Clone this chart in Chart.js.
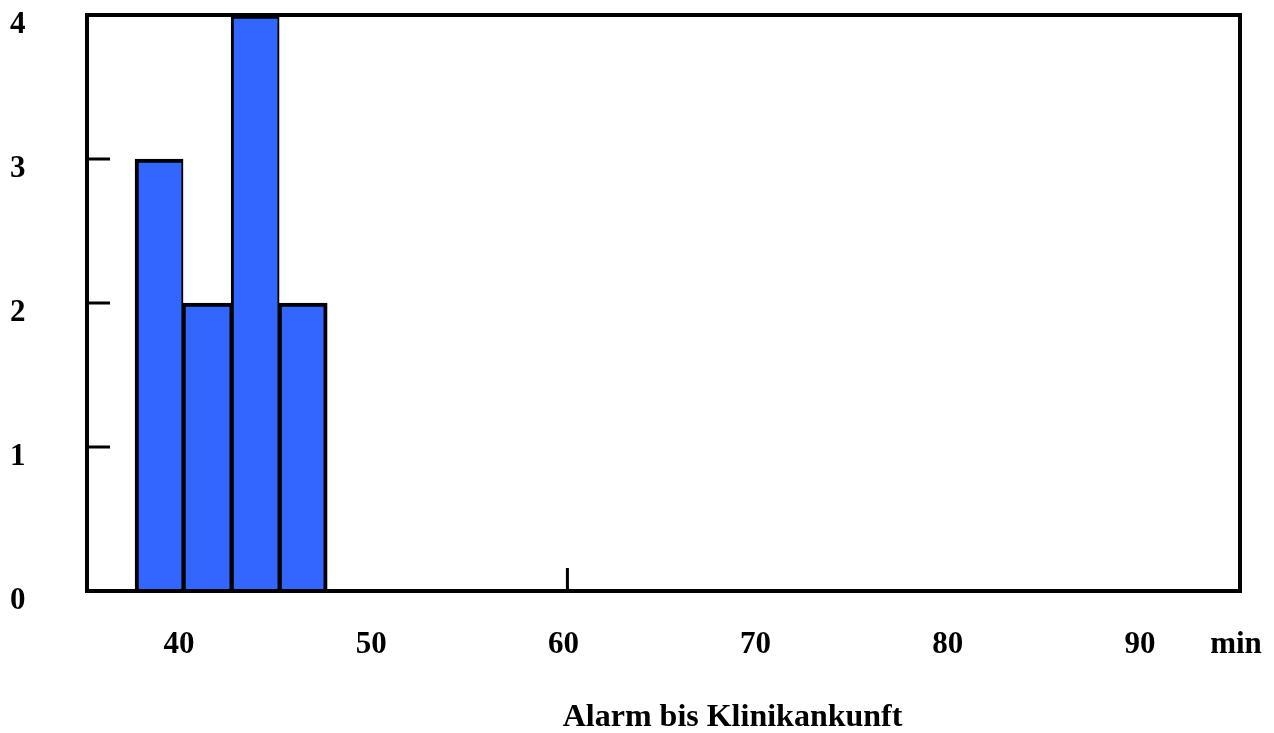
<!DOCTYPE html>
<html>
<head>
<meta charset="utf-8">
<script src="https://cdn.jsdelivr.net/npm/chart.js@4.4.1/dist/chart.umd.min.js"></script>
<style>
  html, body { margin: 0; padding: 0; background: #fff; }
  canvas { display: block; }
</style>
</head>
<body>
<canvas id="histChart" width="1274" height="733"></canvas>
<script>
// bin centres (min) and counts
var binCenters = [38.75, 41.25, 43.75, 46.25];
var counts = [3, 2, 4, 2];
var xTicks = [40, 50, 60, 70, 80, 90, 95];
var xTickLabels = ['40', '50', '60', '70', '80', '90', 'min'];
var yTicks = [0, 1, 2, 3, 4];
var xTitle = 'Alarm bis Klinikankunft';

var FONT = '"Liberation Serif", "Times New Roman", serif';

// frame, inner tick marks and axis title
var framePlugin = {
    id: 'frame',
    afterDatasetsDraw: function (chart) {
        var ctx = chart.ctx;
        var a = chart.chartArea;
        var xs = chart.scales.x, ys = chart.scales.y;
        ctx.save();
        ctx.strokeStyle = '#000';
        ctx.lineWidth = 3;
        ctx.beginPath();
        [1, 2, 3].forEach(function (v) {
            var py = ys.getPixelForValue(v);
            ctx.moveTo(a.left, py);
            ctx.lineTo(a.left + 23, py);
        });
        var px = xs.getPixelForValue(60);
        ctx.moveTo(px, a.bottom);
        ctx.lineTo(px, a.bottom - 23);
        ctx.stroke();
        ctx.lineWidth = 4;
        ctx.strokeRect(a.left, a.top, a.right - a.left, a.bottom - a.top);
        ctx.fillStyle = '#000';
        ctx.font = 'bold 32px ' + FONT;
        ctx.textAlign = 'center';
        ctx.textBaseline = 'middle';
        ctx.fillText(xTitle, chart.width * 0.575, 718);
        ctx.restore();
    }
};

var ctx = document.getElementById('histChart').getContext('2d');
var histChart = new Chart(ctx, {
    type: 'bar',
    data: {
        datasets: [{
            data: binCenters.map(function (c, i) { return { x: c, y: counts[i] }; }),
            backgroundColor: '#3366ff',
            borderColor: '#000',
            borderWidth: function (c) {
                var last = c.dataIndex === counts.length - 1;
                return {
                    top: 4,
                    left: c.dataIndex === 0 ? 4 : 3,
                    right: last ? 4 : 2,
                    bottom: 0
                };
            },
            barPercentage: 1,
            categoryPercentage: 1
        }]
    },
    options: {
        responsive: false,
        animation: false,
        devicePixelRatio: 1,
        layout: { padding: { left: 10, right: 34, top: 15, bottom: 0 } },
        plugins: {
            legend: { display: false },
            tooltip: { enabled: false }
        },
        scales: {
            x: {
                type: 'linear',
                offset: false,
                min: 35,
                max: 95,
                grid: { display: false, drawTicks: false, offset: false },
                border: { display: false },
                afterBuildTicks: function (scale) {
                    scale.ticks = xTicks.map(function (v) { return { value: v }; });
                },
                afterFit: function (scale) {
                    scale.height = 142;
                    scale.paddingLeft = 0;
                    scale.paddingRight = 0;
                },
                ticks: {
                    autoSkip: false,
                    maxRotation: 0,
                    padding: 35,
                    labelOffset: -4,
                    color: '#000',
                    font: { family: FONT, size: 31, weight: 'bold' },
                    callback: function (v) {
                        var i = xTicks.indexOf(v);
                        return i >= 0 ? xTickLabels[i] : '';
                    }
                }
            },
            y: {
                min: 0,
                max: 4,
                grid: { display: false, drawTicks: false },
                border: { display: false },
                afterBuildTicks: function (scale) {
                    scale.ticks = yTicks.map(function (v) { return { value: v }; });
                },
                afterFit: function (scale) {
                    scale.width = 77;
                    scale.paddingTop = 0;
                    scale.paddingBottom = 0;
                },
                ticks: {
                    crossAlign: 'far',
                    padding: 10,
                    labelOffset: 10,
                    color: '#000',
                    font: { family: FONT, size: 31, weight: 'bold' }
                }
            }
        }
    },
    plugins: [framePlugin]
});
</script>
</body>
</html>
